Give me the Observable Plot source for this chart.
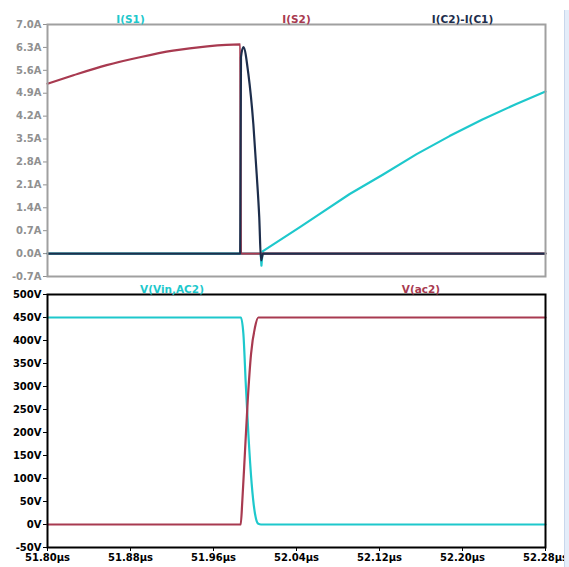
<!DOCTYPE html>
<html><head><meta charset="utf-8">
<script src="https://cdn.jsdelivr.net/npm/d3@7"></script>
<script src="https://cdn.jsdelivr.net/npm/@observablehq/plot@0.6"></script>
<style>
html,body{margin:0;padding:0;background:#fff;}
#chart{position:relative;width:569px;height:567px;overflow:hidden;}
#chart svg{display:block;}
#strip{position:absolute;left:564px;top:10px;width:5px;height:557px;background:#e4edf9;border-left:1px solid #c8d7ec;}
</style></head>
<body>
<div id="chart"><div id="strip"></div></div>
<script>
// ---- axes / ticks ----
const timeDomain = [51.80, 52.28];
const xTicks = [51.80, 51.88, 51.96, 52.04, 52.12, 52.20, 52.28];
const xTickLabels = ["51.80µs", "51.88µs", "51.96µs", "52.04µs", "52.12µs", "52.20µs", "52.28µs"];
const currentDomain = [-0.7, 7.0];
const currentTicks = [7.0, 6.3, 5.6, 4.9, 4.2, 3.5, 2.8, 2.1, 1.4, 0.7, 0.0, -0.7];
const currentTickLabels = ["7.0A", "6.3A", "5.6A", "4.9A", "4.2A", "3.5A", "2.8A", "2.1A", "1.4A", "0.7A", "0.0A", "-0.7A"];
const voltageDomain = [-50, 500];
const voltageTicks = [500, 450, 400, 350, 300, 250, 200, 150, 100, 50, 0, -50];
const voltageTickLabels = ["500V", "450V", "400V", "350V", "300V", "250V", "200V", "150V", "100V", "50V", "0V", "-50V"];

// ---- top pane series (A) ----
const topLabels = ["I(S1)", "I(S2)", "I(C2)-I(C1)"];
const iS1Time  = [51.80, 52.0055, 52.0062, 52.0073, 52.0433, 52.0596, 52.0913, 52.1231, 52.1558, 52.1875, 52.2192, 52.2519, 52.28];
const iS1Value = [0, 0, -0.37, 0.07, 0.81, 1.15, 1.82, 2.41, 3.04, 3.59, 4.10, 4.57, 4.95];
const iS2Time  = [51.80, 51.825, 51.857, 51.889, 51.921, 51.954, 51.9858, 51.9864, 52.0080, 52.28];
const iS2Value = [5.19, 5.45, 5.76, 6.00, 6.20, 6.33, 6.39, 0, 0, 0];
const iCTime   = [51.80, 51.9857, 51.9865, 51.9888, 51.9936, 51.9984, 52.0016, 52.0041, 52.0058, 52.0078, 52.28];
const iCValue  = [0, 0, 6.0, 6.31, 5.49, 3.96, 2.44, 1.11, -0.21, 0, 0];

// ---- bottom pane series (V) ----
const bottomLabels = ["V(Vin,AC2)", "V(ac2)"];
const vinTime  = [51.80, 51.9864, 51.9888, 51.9911, 51.9936, 51.9968, 52.0000, 52.0032, 52.0058, 52.28];
const vinValue = [450, 450, 414.6, 305.9, 197.2, 88.5, 23.3, 1.5, 0, 0];
const vacTime  = [51.80, 51.9862, 51.9878, 51.9904, 51.9930, 51.9962, 52.0000, 52.0032, 52.28];
const vacValue = [0, 0, 52.2, 160.9, 269.6, 371, 428.9, 450, 450];

const colors = {cyan: "#1ec8cc", red: "#a83a50", navy: "#1d2e4c"};
const rows = (ts, vs) => ts.map((t, i) => ({t, v: vs[i]}));
const fmt = (ticks, labels) => d => labels[ticks.indexOf(d)];
const font = "DejaVu Sans";
const lineOpts = (c, curve = "monotone-x") => ({x: "t", y: "v", stroke: c, strokeWidth: 2.2, curve});

function legend(labels, cols) {
  const n = labels.length;
  return labels.map((lab, i) => Plot.text([lab], {
    x: () => timeDomain[0] + (timeDomain[1] - timeDomain[0]) * (2 * i + 1) / (2 * n),
    text: d => d, frameAnchor: "top", dy: -9, fill: cols[i],
    fontSize: 10.5, fontWeight: "bold", fontFamily: font
  }));
}

const topPane = Plot.plot({
  width: 569, height: 280,
  marginLeft: 47, marginRight: 24, marginTop: 24, marginBottom: 4,
  style: {fontFamily: font, fontSize: "10px", fontWeight: "bold", color: "#909090", background: "transparent", overflow: "visible"},
  x: {domain: timeDomain, axis: null},
  y: {domain: currentDomain, ticks: currentTicks, tickFormat: fmt(currentTicks, currentTickLabels), tickSize: 4, tickPadding: 2, label: null},
  marks: [
    Plot.line(rows(iS1Time, iS1Value), lineOpts(colors.cyan, "linear")),
    Plot.line(rows(iS2Time, iS2Value), lineOpts(colors.red)),
    Plot.line(rows(iCTime, iCValue), lineOpts(colors.navy)),
    Plot.frame({stroke: "#a0a0a0", strokeWidth: 2}),
    ...legend(topLabels, [colors.cyan, colors.red, colors.navy])
  ]
});

const bottomPane = Plot.plot({
  width: 569, height: 287,
  marginLeft: 47, marginRight: 24, marginTop: 14, marginBottom: 20,
  style: {fontFamily: font, fontSize: "10px", fontWeight: "bold", color: "#000", background: "transparent", overflow: "visible"},
  x: {domain: timeDomain, ticks: xTicks, tickFormat: fmt(xTicks, xTickLabels), tickSize: 4, tickPadding: 2, label: null},
  y: {domain: voltageDomain, ticks: voltageTicks, tickFormat: fmt(voltageTicks, voltageTickLabels), tickSize: 4, tickPadding: 2, label: null},
  marks: [
    Plot.line(rows(vinTime, vinValue), lineOpts(colors.cyan)),
    Plot.line(rows(vacTime, vacValue), lineOpts(colors.red)),
    Plot.frame({stroke: "#000", strokeWidth: 2}),
    ...legend(bottomLabels, [colors.cyan, colors.red])
  ]
});

const chart = document.getElementById("chart");
chart.appendChild(topPane);
chart.appendChild(bottomPane);
</script>
</body></html>
